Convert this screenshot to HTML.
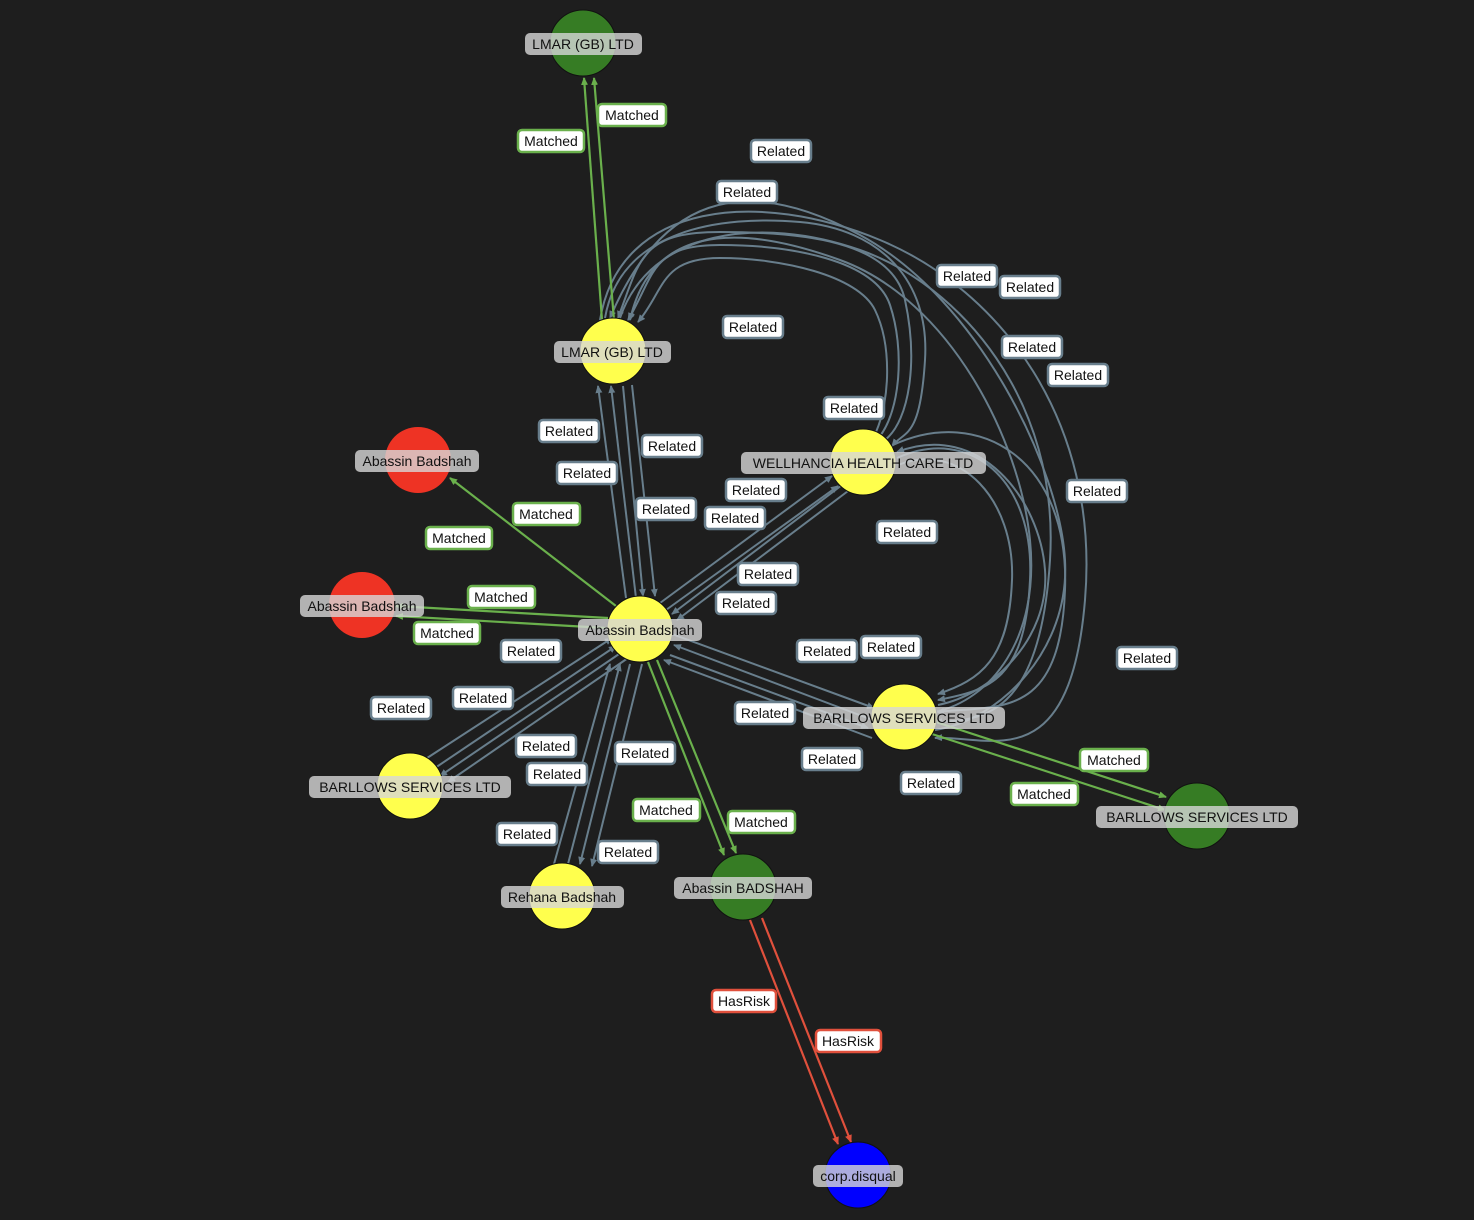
<!DOCTYPE html>
<html><head><meta charset="utf-8"><style>
html,body{margin:0;padding:0;background:#1e1e1e;}
svg{display:block;font-family:"Liberation Sans",Arial,sans-serif;}
.r{fill:none;stroke:#687e8c;stroke-width:2;marker-end:url(#ar);}
.m{fill:none;stroke:#6ab04c;stroke-width:2.2;marker-end:url(#am);}
.h{fill:none;stroke:#e0503c;stroke-width:2.2;marker-end:url(#ah);}
.nl rect{fill:rgba(215,215,215,0.8);}
.nl text{font-size:14px;fill:#111;text-anchor:middle;}
.el text{font-size:14px;fill:#111;text-anchor:middle;}
.el rect{fill:#fff;stroke-width:2.5;}
.er rect{stroke:#687e8c;} .em rect{stroke:#6ab04c;} .eh rect{stroke:#e0503c;}
</style></head><body>
<svg width="1474" height="1220" viewBox="0 0 1474 1220" xmlns="http://www.w3.org/2000/svg">
<defs>
<marker id="ar" markerWidth="8" markerHeight="8" refX="7" refY="4" orient="auto" markerUnits="userSpaceOnUse"><path d="M0,0.5 L8,4 L0,7.5z" fill="#687e8c"/></marker>
<marker id="am" markerWidth="8" markerHeight="8" refX="7" refY="4" orient="auto" markerUnits="userSpaceOnUse"><path d="M0,0.5 L8,4 L0,7.5z" fill="#6ab04c"/></marker>
<marker id="ah" markerWidth="8" markerHeight="8" refX="7" refY="4" orient="auto" markerUnits="userSpaceOnUse"><path d="M0,0.5 L8,4 L0,7.5z" fill="#e0503c"/></marker>
</defs>
<rect width="1474" height="1220" fill="#1e1e1e"/>

<!-- loops LMAR <-> BARLLOWS right -->
<path class="r" d="M600,320 C620,200 760,190 880,240 S1100,420 1085,600 S990,735 935,738"/>
<path class="r" d="M935,730 C1000,720 1070,650 1065,560 S980,300 860,235 S660,200 610,318"/>
<path class="r" d="M620,318 C650,230 760,215 860,250 S1060,400 1050,560 S980,720 935,722"/>
<path class="r" d="M935,712 C990,700 1040,640 1030,540 S950,300 840,260 S650,230 630,320"/>
<!-- loops LMAR <-> WELLHANCIA -->
<path class="r" d="M605,318 C620,230 720,215 800,222 S930,280 925,360 S905,430 892,446"/>
<path class="r" d="M885,440 C910,420 918,360 905,300 S800,232 720,232 S640,260 618,318"/>
<path class="r" d="M880,436 C900,410 905,350 890,305 S790,245 720,245 S655,275 628,320"/>
<path class="r" d="M876,432 C890,400 892,345 875,310 S780,258 720,258 S665,290 638,322"/>
<!-- loops WELLHANCIA <-> BARLLOWS -->
<path class="r" d="M893,445 C980,405 1070,460 1065,590 S1000,705 937,712"/>
<path class="r" d="M938,705 C990,695 1050,640 1045,570 S980,420 897,452"/>
<path class="r" d="M897,458 C970,425 1035,480 1030,580 S990,690 938,700"/>
<path class="r" d="M898,465 C960,440 1015,500 1012,580 S980,680 938,694"/>

<!-- LMAR top matched -->
<path class="m" d="M602,320 L584,78"/>
<path class="m" d="M614,320 L594,78"/>
<!-- LMAR <-> center -->
<path class="r" d="M626,598 L598,386"/>
<path class="r" d="M636,598 L611,386"/>
<path class="r" d="M623,386 L643,596"/>
<path class="r" d="M632,385 L655,596"/>
<!-- center <-> WELLHANCIA -->
<path class="r" d="M660,603 L832,476"/>
<path class="r" d="M666,610 L838,486"/>
<path class="r" d="M846,482 L672,614"/>
<path class="r" d="M852,488 L677,620"/>
<!-- center <-> BARLLOWS right -->
<path class="r" d="M672,634 L874,708"/>
<path class="r" d="M870,719 L674,645"/>
<path class="r" d="M670,655 L868,728"/>
<path class="r" d="M872,738 L664,660"/>
<!-- BARLLOWS right -> green -->
<path class="m" d="M936,722 L1166,797"/>
<path class="m" d="M932,734 L1165,810"/>
<!-- center -> red -->
<path class="m" d="M616,606 L450,478"/>
<path class="m" d="M608,618 L396,606"/>
<path class="m" d="M606,628 L396,616"/>
<!-- center <-> BARLLOWS left -->
<path class="r" d="M424,760 L612,638"/>
<path class="r" d="M432,770 L616,646"/>
<path class="r" d="M622,652 L440,776"/>
<path class="r" d="M628,658 L448,782"/>
<!-- center <-> Rehana -->
<path class="r" d="M554,864 L610,664"/>
<path class="r" d="M568,864 L620,664"/>
<path class="r" d="M630,664 L580,864"/>
<path class="r" d="M642,664 L592,866"/>
<!-- center -> BADSHAH -->
<path class="m" d="M648,662 L724,855"/>
<path class="m" d="M657,660 L736,853"/>
<!-- BADSHAH -> corp -->
<path class="h" d="M750,920 L838,1144"/>
<path class="h" d="M762,918 L851,1142"/>

<!-- nodes -->
<g stroke="#111" stroke-width="1">
<circle cx="583" cy="43" r="33" fill="#367c24"/>
<circle cx="613" cy="351" r="33" fill="#ffff4d"/>
<circle cx="863" cy="462" r="33" fill="#ffff4d"/>
<circle cx="640" cy="629" r="33" fill="#ffff4d"/>
<circle cx="904" cy="717" r="33" fill="#ffff4d"/>
<circle cx="410" cy="786" r="33" fill="#ffff4d"/>
<circle cx="562" cy="896" r="33" fill="#ffff4d"/>
<circle cx="743" cy="887" r="33" fill="#367c24"/>
<circle cx="1197" cy="816" r="33" fill="#367c24"/>
<circle cx="418" cy="460" r="33" fill="#ee3324" stroke="none"/>
<circle cx="362" cy="605" r="33" fill="#ee3324" stroke="none"/>
<circle cx="858" cy="1175" r="33" fill="#0000ff"/>
</g>

<!-- node labels -->
<g class="nl">
<rect x="525" y="33" width="117" height="22" rx="5"/><text x="583" y="49">LMAR (GB) LTD</text>
<rect x="554" y="341" width="117" height="22" rx="5"/><text x="612" y="357">LMAR (GB) LTD</text>
<rect x="741" y="452" width="245" height="22" rx="5"/><text x="863" y="468">WELLHANCIA HEALTH CARE LTD</text>
<rect x="578" y="619" width="124" height="22" rx="5"/><text x="640" y="635">Abassin Badshah</text>
<rect x="803" y="707" width="202" height="22" rx="5"/><text x="904" y="723">BARLLOWS SERVICES LTD</text>
<rect x="309" y="776" width="202" height="22" rx="5"/><text x="410" y="792">BARLLOWS SERVICES LTD</text>
<rect x="501" y="886" width="123" height="22" rx="5"/><text x="562" y="902">Rehana Badshah</text>
<rect x="674" y="877" width="138" height="22" rx="5"/><text x="743" y="893">Abassin BADSHAH</text>
<rect x="1096" y="806" width="202" height="22" rx="5"/><text x="1197" y="822">BARLLOWS SERVICES LTD</text>
<rect x="355" y="450" width="124" height="22" rx="5"/><text x="417" y="466">Abassin Badshah</text>
<rect x="300" y="595" width="124" height="22" rx="5"/><text x="362" y="611">Abassin Badshah</text>
<rect x="813" y="1165" width="90" height="22" rx="5"/><text x="858" y="1181">corp.disqual</text>
</g>

<!-- edge labels: Matched -->
<g class="el em">
<rect x="518" y="130" width="66" height="22" rx="4"/><text x="551" y="146">Matched</text>
<rect x="598" y="104" width="68" height="22" rx="4"/><text x="632" y="120">Matched</text>
<rect x="513" y="503" width="67" height="22" rx="4"/><text x="546" y="519">Matched</text>
<rect x="426" y="527" width="66" height="22" rx="4"/><text x="459" y="543">Matched</text>
<rect x="468" y="586" width="67" height="22" rx="4"/><text x="501" y="602">Matched</text>
<rect x="414" y="622" width="66" height="22" rx="4"/><text x="447" y="638">Matched</text>
<rect x="1080" y="749" width="68" height="22" rx="4"/><text x="1114" y="765">Matched</text>
<rect x="1011" y="783" width="67" height="22" rx="4"/><text x="1044" y="799">Matched</text>
<rect x="633" y="799" width="67" height="22" rx="4"/><text x="666" y="815">Matched</text>
<rect x="728" y="811" width="67" height="22" rx="4"/><text x="761" y="827">Matched</text>
</g>
<g class="el eh">
<rect x="712" y="990" width="64" height="22" rx="4"/><text x="744" y="1006">HasRisk</text>
<rect x="816" y="1030" width="65" height="22" rx="4"/><text x="848" y="1046">HasRisk</text>
</g>
<g class="el er">
<rect x="751" y="140" width="60" height="22" rx="4"/><text x="781" y="156">Related</text>
<rect x="717" y="181" width="60" height="22" rx="4"/><text x="747" y="197">Related</text>
<rect x="937" y="265" width="60" height="22" rx="4"/><text x="967" y="281">Related</text>
<rect x="1000" y="276" width="60" height="22" rx="4"/><text x="1030" y="292">Related</text>
<rect x="723" y="316" width="60" height="22" rx="4"/><text x="753" y="332">Related</text>
<rect x="1002" y="336" width="60" height="22" rx="4"/><text x="1032" y="352">Related</text>
<rect x="1048" y="364" width="60" height="22" rx="4"/><text x="1078" y="380">Related</text>
<rect x="824" y="397" width="60" height="22" rx="4"/><text x="854" y="413">Related</text>
<rect x="539" y="420" width="60" height="22" rx="4"/><text x="569" y="436">Related</text>
<rect x="642" y="435" width="60" height="22" rx="4"/><text x="672" y="451">Related</text>
<rect x="557" y="462" width="60" height="22" rx="4"/><text x="587" y="478">Related</text>
<rect x="636" y="498" width="60" height="22" rx="4"/><text x="666" y="514">Related</text>
<rect x="726" y="479" width="60" height="22" rx="4"/><text x="756" y="495">Related</text>
<rect x="705" y="507" width="60" height="22" rx="4"/><text x="735" y="523">Related</text>
<rect x="877" y="521" width="60" height="22" rx="4"/><text x="907" y="537">Related</text>
<rect x="1067" y="480" width="60" height="22" rx="4"/><text x="1097" y="496">Related</text>
<rect x="738" y="563" width="60" height="22" rx="4"/><text x="768" y="579">Related</text>
<rect x="716" y="592" width="60" height="22" rx="4"/><text x="746" y="608">Related</text>
<rect x="501" y="640" width="60" height="22" rx="4"/><text x="531" y="656">Related</text>
<rect x="797" y="640" width="60" height="22" rx="4"/><text x="827" y="656">Related</text>
<rect x="861" y="636" width="60" height="22" rx="4"/><text x="891" y="652">Related</text>
<rect x="1117" y="647" width="60" height="22" rx="4"/><text x="1147" y="663">Related</text>
<rect x="371" y="697" width="60" height="22" rx="4"/><text x="401" y="713">Related</text>
<rect x="453" y="687" width="60" height="22" rx="4"/><text x="483" y="703">Related</text>
<rect x="735" y="702" width="60" height="22" rx="4"/><text x="765" y="718">Related</text>
<rect x="516" y="735" width="60" height="22" rx="4"/><text x="546" y="751">Related</text>
<rect x="527" y="763" width="60" height="22" rx="4"/><text x="557" y="779">Related</text>
<rect x="615" y="742" width="60" height="22" rx="4"/><text x="645" y="758">Related</text>
<rect x="802" y="748" width="60" height="22" rx="4"/><text x="832" y="764">Related</text>
<rect x="901" y="772" width="60" height="22" rx="4"/><text x="931" y="788">Related</text>
<rect x="497" y="823" width="60" height="22" rx="4"/><text x="527" y="839">Related</text>
<rect x="598" y="841" width="60" height="22" rx="4"/><text x="628" y="857">Related</text>
</g>
</svg>
</body></html>
